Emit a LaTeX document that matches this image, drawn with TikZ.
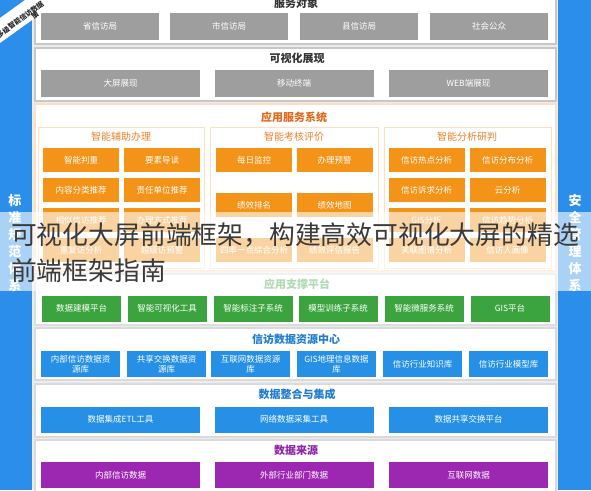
\documentclass[tikz,border=0pt]{standalone}
\usepackage{fontspec}
\setmainfont{Noto Sans CJK SC}
\definecolor{sidebl}{HTML}{2B8EEA}
\definecolor{boxgray}{HTML}{9E9E9E}
\definecolor{boxor}{HTML}{F39317}
\definecolor{titor}{HTML}{E2691C}
\definecolor{panor}{HTML}{E9822A}
\definecolor{boxgr}{HTML}{3BA43F}
\definecolor{boxbl}{HTML}{2590E6}
\definecolor{titbl}{HTML}{1F7CD0}
\definecolor{boxpu}{HTML}{9C27B0}
\definecolor{titpu}{HTML}{8E24AA}
\definecolor{bggray}{HTML}{ECECEC}
\definecolor{ovtext}{HTML}{3A3A3A}
\begin{document}
\begin{tikzpicture}[x=1pt,y=-1pt,
  bx/.style={rectangle, inner sep=1pt, text=white, align=center,
    font=\fontsize{8.5}{10}\selectfont},
  graybox/.style={bx, fill=boxgray, minimum width=118pt, minimum height=27pt},
  graywide/.style={bx, fill=boxgray, minimum width=159pt, minimum height=27pt},
  orbox/.style={bx, fill=boxor, minimum width=76pt, minimum height=24pt},
  grbox/.style={bx, fill=boxgr, minimum width=79pt, minimum height=26pt},
  blbox/.style={bx, fill=boxbl, minimum width=79pt, minimum height=26pt},
  blwide/.style={bx, fill=boxbl, minimum width=159pt, minimum height=26pt},
  puwide/.style={bx, fill=boxpu, minimum width=159pt, minimum height=26pt},
  layer/.style={fill=white, draw=#1, line width=1.3pt},
  paneltitle/.style={text=panor, font=\fontsize{10}{12}\selectfont},
  layertitle/.style={font=\fontsize{11}{13}\selectfont\bfseries, text=#1},
  sidetext/.style={text=white, align=center, font=\fontsize{13}{17}\selectfont\bfseries},
  ribtext/.style={rotate=36, inner sep=0pt, text=black!85, font=\fontsize{7}{8}\selectfont\bfseries}
]
\useasboundingbox (0,0) rectangle (591,490);
\begin{scope}
\clip (0,0) rectangle (591,490);
% backgrounds
\fill[bggray] (32,0) rectangle (558,490);
\fill[sidebl] (0,0) rectangle (32,490);
\fill[sidebl] (558,0) rectangle (591,490);

% layer frames
\draw[layer=black!22] (35,-8) rectangle (556,44);
\draw[layer=black!22] (35,48) rectangle (556,101);
\draw[layer=orange!25] (35,104) rectangle (556,271);
\draw[layer=green!20!black!15] (35,274) rectangle (556,325);
\draw[layer=blue!15!black!15] (35,328) rectangle (556,380);
\draw[layer=blue!15!black!15] (35,384) rectangle (556,437);
\draw[layer=violet!15!black!15] (35,440) rectangle (556,498);

% 服务对象
\node[layertitle=black!80] (t1) at (296,3) {服务对象};
\node[graybox] (s1) at (100,26.5) {省信访局};
\node[graybox] (s2) at (229,26.5) {市信访局};
\node[graybox] (s3) at (359,26.5) {县信访局};
\node[graybox] (s4) at (489,26.5) {社会公众};

% 可视化展现
\node[layertitle=black!80] (t2) at (297,58) {可视化展现};
\node[graywide] (v1) at (120.5,83.5) {大屏展现};
\node[graywide] (v2) at (294,83.5) {移动终端};
\node[graywide] (v3) at (468.5,83.5) {WEB端展现};

% 应用服务系统
\node[layertitle=titor] (t3) at (294,117) {应用服务系统};
\draw[fill=white, draw=orange!25, line width=1pt] (38,127) rectangle (204,268);
\draw[fill=white, draw=orange!25, line width=1pt] (210,127) rectangle (378,268);
\draw[fill=white, draw=orange!25, line width=1pt] (384,127) rectangle (551,268);
\node[paneltitle] (p1) at (121,137) {智能辅助办理};
\node[paneltitle] (p2) at (294,137) {智能考核评价};
\node[paneltitle] (p3) at (467,137) {智能分析研判};

\node[orbox] (a11) at (81,160) {智能判重};
\node[orbox] (a12) at (162,160) {要素导读};
\node[orbox] (a21) at (81,190) {内容分类推荐};
\node[orbox] (a22) at (162,190) {责任单位推荐};
\node[orbox] (a31) at (81,220) {相似信访推荐};
\node[orbox] (a32) at (162,220) {办理方式推荐};
\node[orbox] (a41) at (81,250) {重复访分析};
\node[orbox] (a42) at (162,250) {越级访预警};

\node[orbox] (b11) at (254,160) {每日监控};
\node[orbox] (b12) at (334.5,160) {办理预警};
\node[orbox] (b21) at (254,205) {绩效排名};
\node[orbox] (b22) at (334.5,205) {绩效地图};
\node[orbox] (b31) at (254,250) {四率一点综合分析};
\node[orbox] (b32) at (334.5,250) {绩效评估报告};

\node[orbox] (c11) at (426.5,160) {信访热点分析};
\node[orbox] (c12) at (507.5,160) {信访分布分析};
\node[orbox] (c21) at (426.5,190) {信访诉求分析};
\node[orbox] (c22) at (507.5,190) {云分析};
\node[orbox] (c31) at (426.5,220) {GIS分析};
\node[orbox] (c32) at (507.5,220) {信访趋势分析};
\node[orbox] (c41) at (426.5,250) {关联图谱分析};
\node[orbox] (c42) at (507.5,250) {信访人画像};

% 应用支撑平台
\node[layertitle=boxgr] (t4) at (297,284) {应用支撑平台};
\node[grbox] (g1) at (81.5,308.5) {数据建模平台};
\node[grbox] (g2) at (167,308.5) {智能可视化工具};
\node[grbox] (g3) at (253,308.5) {智能标注子系统};
\node[grbox] (g4) at (338,308.5) {模型训练子系统};
\node[grbox] (g5) at (424,308.5) {智能微服务系统};
\node[grbox] (g6) at (510,308.5) {GIS平台};

% 信访数据资源中心
\node[layertitle=titbl] (t5) at (296,339) {信访数据资源中心};
\node[blbox] (d1) at (80.5,364) {内部信访数据资\\源库};
\node[blbox] (d2) at (166.5,364) {共享交换数据资\\源库};
\node[blbox] (d3) at (250.5,364) {互联网数据资源\\库};
\node[blbox] (d4) at (336.5,364) {GIS地理信息数据\\库};
\node[blbox] (d5) at (422.5,364) {信访行业知识库};
\node[blbox] (d6) at (508.5,364) {信访行业模型库};

% 数据整合与集成
\node[layertitle=titbl] (t6) at (297,394) {数据整合与集成};
\node[blwide] (e1) at (120.5,419.5) {数据集成ETL工具};
\node[blwide] (e2) at (294,419.5) {网络数据采集工具};
\node[blwide] (e3) at (468.5,419.5) {数据共享交换平台};

% 数据来源
\node[layertitle=titpu] (t7) at (296,450) {数据来源};
\node[puwide] (f1) at (120.5,475) {内部信访数据};
\node[puwide] (f2) at (294,475) {外部行业部门数据};
\node[puwide] (f3) at (468.5,475) {互联网数据};

% side texts
\node[sidetext] (lt) at (15,243) {标\\准\\规\\范\\体\\系};
\node[sidetext] (rt) at (575,243) {安\\全\\管\\理\\体\\系};

% corner ribbon
\fill[white] (0,18) -- (25,0) -- (60,0) -- (0,43) -- cycle;
\node[ribtext, anchor=east] (rib1) at (43,3) {基于多级智能信访数据};
\node[ribtext] (rib2) at (35,15) {策};

% overlay caption band
\fill[white, opacity=0.6] (0,212) rectangle (591,291);
\node[anchor=west, inner sep=0pt, text=ovtext, font=\fontsize{25.8}{30}\selectfont] (cap1) at (11,235) {可视化大屏前端框架，构建高效可视化大屏的精选};
\node[anchor=west, inner sep=0pt, text=ovtext, font=\fontsize{25.8}{30}\selectfont] (cap2) at (11,271) {前端框架指南};
\end{scope}
\end{tikzpicture}
\end{document}
